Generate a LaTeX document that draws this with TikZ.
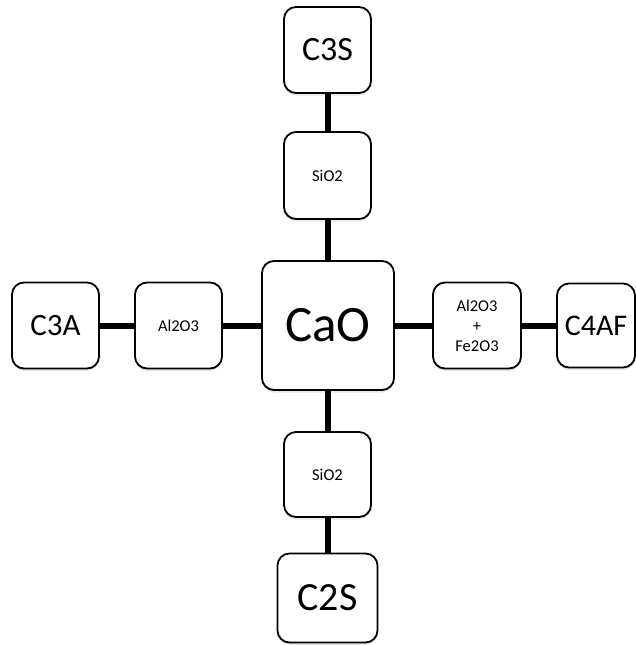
\documentclass[tikz,border=0pt]{standalone}
\usepackage{fontspec}
\setmainfont{Carlito}
\usetikzlibrary{shadows}
\begin{document}
\begin{tikzpicture}[x=1pt,y=-1pt,
  box/.style={draw=black, line width=1.8pt, rounded corners=12pt, fill=white,
    drop shadow={opacity=0.18, shadow xshift=0pt, shadow yshift=-2.5pt},
    inner sep=0pt, align=center},
  small/.style={font=\fontsize{16.5}{20}\selectfont},
  link/.style={line width=6pt, black}]
\useasboundingbox (0,0) rectangle (636,645);
\node[box, minimum width=132pt, minimum height=129pt, font=\fontsize{51}{58}\selectfont] (cao) at (328,325.5) {CaO};
\node[box, font=\fontsize{34}{40}\selectfont, minimum width=87pt, minimum height=86pt] (c3s) at (327.5,50) {C3S};
\node[box, small, minimum width=87pt, minimum height=87pt] (sio2t) at (327.5,175.5) {SiO2};
\node[box, small, minimum width=87pt, minimum height=85pt] (sio2b) at (327.5,474.5) {SiO2};
\node[box, font=\fontsize{40}{46}\selectfont, minimum width=100pt, minimum height=89pt] (c2s) at (327.5,598) {C2S};
\node[box, font=\fontsize{31}{37}\selectfont, minimum width=87pt, minimum height=86pt] (c3a) at (55.5,325.5) {C3A};
\node[box, small, minimum width=87pt, minimum height=86pt] (al) at (178.5,325.5) {Al2O3};
\node[box, small, minimum width=88pt, minimum height=86pt] (alfe) at (477,325.5) {Al2O3\\+\\Fe2O3};
\node[box, font=\fontsize{30}{36}\selectfont, minimum width=78pt, minimum height=84pt] (c4af) at (596,325.5) {C4AF};
\draw[link] (c3s.south) -- (sio2t.north);
\draw[link] (sio2t.south) -- (cao.north -| sio2t.south);
\draw[link] (cao.south -| sio2b.north) -- (sio2b.north);
\draw[link] (sio2b.south) -- (c2s.north);
\draw[link] (c3a.east) -- (al.west);
\draw[link] (al.east) -- (cao.west);
\draw[link] (cao.east) -- (alfe.west);
\draw[link] (alfe.east) -- (c4af.west);
\end{tikzpicture}
\end{document}
